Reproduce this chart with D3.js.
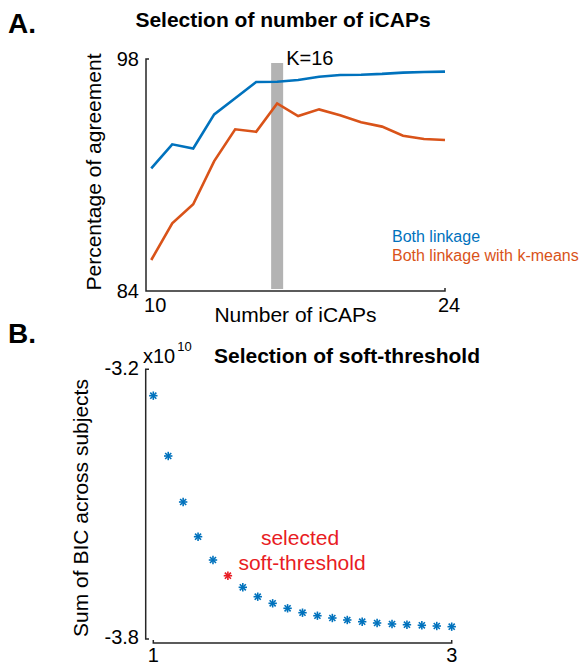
<!DOCTYPE html>
<html>
<head>
<meta charset="utf-8">
<script src="https://cdn.jsdelivr.net/npm/d3@7"></script>
<style>
  body { margin: 0; background: #fff; }
  text { font-family: "Liberation Sans", Arial, Helvetica, sans-serif; }
</style>
</head>
<body>
<div id="chart"></div>
<script>
// panel A data
const numICAPs = [10, 11, 12, 13, 14, 15, 16, 17, 18, 19, 20, 21, 22, 23, 24];
const bothLinkage = [91.4, 92.85, 92.6, 94.66, 95.63, 96.61, 96.63, 96.73, 96.93, 97.03, 97.05, 97.1, 97.18, 97.22, 97.24];
const bothLinkageKmeans = [85.87, 88.08, 89.23, 91.84, 93.76, 93.61, 95.32, 94.56, 94.96, 94.6, 94.18, 93.92, 93.37, 93.17, 93.11];
const selectedK = 16;
const legendLabels = ["Both linkage", "Both linkage with k-means"];

// panel B data (x10^10)
const softThresholds = [1.0, 1.1, 1.2, 1.3, 1.4, 1.5, 1.6, 1.7, 1.8, 1.9, 2.0, 2.1, 2.2, 2.3, 2.4, 2.5, 2.6, 2.7, 2.8, 2.9, 3.0];
const sumBIC = [-3.2587, -3.3929, -3.4952, -3.5724, -3.6243, -3.6592, -3.685, -3.7059, -3.7206, -3.7317, -3.7415, -3.7482, -3.7533, -3.7577, -3.7615, -3.7644, -3.7666, -3.7682, -3.7695, -3.7711, -3.7726];
const selectedThreshold = 1.5;

const width = 586;
const height = 666;
const blue = "#0072BD";
const orange = "#D95319";
const red = "#e81c24";
const axisColor = "#262626";

const svg = d3.select("#chart").append("svg").attr("width", width).attr("height", height);

// ---------- panel A ----------
const xA = d3.scaleLinear().domain([9.75, 24]).range([146, 445]);
const yA = d3.scaleLinear().domain([84, 98]).range([291, 59]);

svg.append("text").attr("x", 8).attr("y", 33).attr("font-size", 28).attr("font-weight", "bold").text("A.");
svg.append("text").attr("x", 283).attr("y", 27).attr("text-anchor", "middle")
  .attr("font-size", 21).attr("font-weight", "bold").text("Selection of number of iCAPs");

// gray bar at K=16
svg.append("rect")
  .attr("x", xA(selectedK) - 6).attr("width", 12)
  .attr("y", 63).attr("height", yA(84) - 2 - 63)
  .attr("fill", "#b3b3b3");
svg.append("text").attr("x", xA(selectedK) + 9).attr("y", 65).attr("font-size", 20).text("K=" + selectedK);

const lineA = (vals) => d3.line().x((d, i) => xA(numICAPs[i])).y((d) => yA(d))(vals);
svg.append("path").attr("d", lineA(bothLinkage)).attr("fill", "none").attr("stroke", blue).attr("stroke-width", 2.6);
svg.append("path").attr("d", lineA(bothLinkageKmeans)).attr("fill", "none").attr("stroke", orange).attr("stroke-width", 2.6);

// axes A
const axA = svg.append("g").attr("stroke", axisColor).attr("stroke-width", 1.5).attr("fill", "none");
axA.append("path").attr("d", d3.line()([[xA(9.75) + 3, yA(98)], [xA(9.75), yA(98)], [xA(9.75), yA(84)], [xA(24), yA(84)], [xA(24), yA(84) - 3]]));

svg.append("g").selectAll("text").data([98, 84]).join("text")
  .attr("x", 139).attr("y", (d) => yA(d)).attr("dy", "0.36em")
  .attr("text-anchor", "end").attr("font-size", 20).text((d) => d);
svg.append("g").selectAll("text").data([10, 24]).join("text")
  .attr("x", (d) => xA(d) + 4).attr("y", yA(84) + 14).attr("dy", "0.36em")
  .attr("text-anchor", "middle").attr("font-size", 20).text((d) => d);

svg.append("text").attr("x", 295.5).attr("y", 322).attr("text-anchor", "middle").attr("font-size", 21).text("Number of iCAPs");
svg.append("text").attr("transform", "translate(93,172) rotate(-90)").attr("dy", "0.36em")
  .attr("text-anchor", "middle").attr("font-size", 21).text("Percentage of agreement");

// legend
svg.append("g").selectAll("text").data(legendLabels).join("text")
  .attr("x", 392).attr("y", (d, i) => 236 + i * 19.5).attr("dy", "0.36em")
  .attr("font-size", 16).attr("fill", (d, i) => (i === 0 ? blue : orange)).text((d) => d);

// ---------- panel B ----------
const xB = d3.scaleLinear().domain([1, 3]).range([153.3, 451.7]);
const yB = d3.scaleLinear().domain([-3.8, -3.2]).range([639, 369.3]);

svg.append("text").attr("x", 8).attr("y", 343).attr("font-size", 28).attr("font-weight", "bold").text("B.");
svg.append("text").attr("x", 347).attr("y", 363).attr("text-anchor", "middle")
  .attr("font-size", 21).attr("font-weight", "bold").text("Selection of soft-threshold");

const axB = svg.append("g").attr("stroke", axisColor).attr("stroke-width", 1.5).attr("fill", "none");
axB.append("path").attr("d", d3.line()([[149, yB(-3.2)], [145.7, yB(-3.2)], [145.7, yB(-3.8)], [149, yB(-3.8)]]));
axB.append("path").attr("d", d3.line()([[xB(1), 640], [xB(1), 643], [xB(3), 643], [xB(3), 640]]));

svg.append("g").selectAll("text").data([-3.2, -3.8]).join("text")
  .attr("x", 139).attr("y", (d) => yB(d) - 2).attr("dy", "0.36em")
  .attr("text-anchor", "end").attr("font-size", 20).text((d) => d.toFixed(1));
svg.append("g").selectAll("text").data([1, 3]).join("text")
  .attr("x", (d) => xB(d)).attr("y", 655).attr("dy", "0.36em")
  .attr("text-anchor", "middle").attr("font-size", 20).text((d) => d);

const expo = svg.append("text").attr("x", 143).attr("y", 363).attr("font-size", 20);
expo.append("tspan").text("x10");
expo.append("tspan").attr("dy", -12).attr("dx", 2).attr("font-size", 13).text("10");

svg.append("text").attr("transform", "translate(80,508) rotate(-90)").attr("dy", "0.36em")
  .attr("text-anchor", "middle").attr("font-size", 21).text("Sum of BIC across subjects");

// asterisk markers
const star = (g, r) => {
  const a = r * 0.72;
  g.append("line").attr("x1", -r).attr("x2", r).attr("y1", 0).attr("y2", 0);
  g.append("line").attr("x1", 0).attr("x2", 0).attr("y1", -r).attr("y2", r);
  g.append("line").attr("x1", -a).attr("x2", a).attr("y1", -a).attr("y2", a);
  g.append("line").attr("x1", -a).attr("x2", a).attr("y1", a).attr("y2", -a);
};
svg.append("g").selectAll("g").data(sumBIC).join("g")
  .attr("transform", (d, i) => `translate(${xB(softThresholds[i])},${yB(d)})`)
  .attr("stroke", (d, i) => (softThresholds[i] === selectedThreshold ? red : blue))
  .attr("stroke-width", 1.6)
  .each(function () { star(d3.select(this), 4.2); });

const iSel = softThresholds.indexOf(selectedThreshold);
svg.append("text").attr("x", 300).attr("y", 537).attr("dy", "0.36em").attr("text-anchor", "middle")
  .attr("font-size", 21).attr("fill", red).text("selected");
svg.append("text").attr("x", 302).attr("y", yB(sumBIC[iSel]) - 13).attr("dy", "0.36em").attr("text-anchor", "middle")
  .attr("font-size", 21).attr("fill", red).text("soft-threshold");
</script>
</body>
</html>
